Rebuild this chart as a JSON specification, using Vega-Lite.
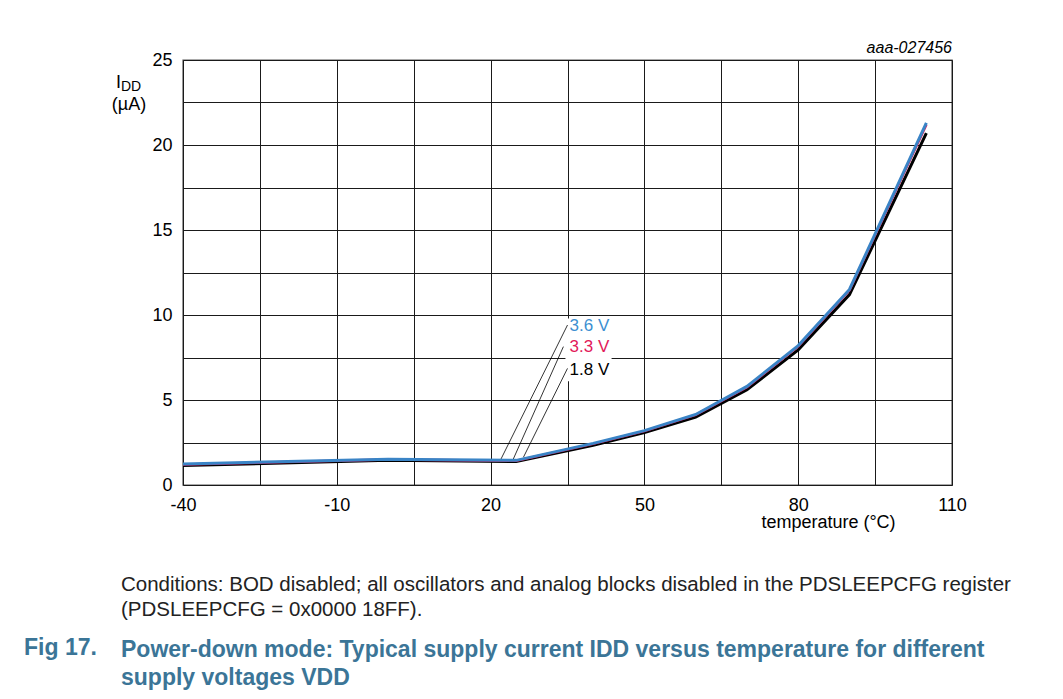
{
  "$schema": "https://vega.github.io/schema/vega-lite/v6.json",
  "width": 769,
  "height": 425,
  "autosize": {"type": "none"},
  "padding": {"left": 183, "top": 60, "right": 111, "bottom": 214},
  "background": "white",
  "config": {
    "font": "Liberation Sans",
    "view": {"stroke": "#555555", "strokeWidth": 1.4},
    "axis": {
      "labelFont": "Liberation Sans",
      "labelFontSize": 18,
      "labelColor": "#000000",
      "labelFlush": false,
      "labelOverlap": false,
      "grid": true,
      "gridColor": "#1a1a1a",
      "gridWidth": 1,
      "gridOpacity": 1,
      "ticks": false,
      "domain": false
    }
  },
  "title": {
    "text": ["Conditions: BOD disabled; all oscillators and analog blocks disabled in the PDSLEEPCFG register", "(PDSLEEPCFG = 0x0000 18FF)."],
    "subtitle": ["Power-down mode: Typical supply current IDD versus temperature for different", "supply voltages VDD"],
    "orient": "bottom",
    "anchor": "start",
    "frame": "group",
    "dx": -62,
    "offset": -85,
    "font": "Liberation Sans",
    "fontSize": 20.5,
    "fontWeight": "normal",
    "color": "#222222",
    "lineHeight": 25,
    "subtitleFont": "Liberation Sans",
    "subtitleFontSize": 23,
    "subtitleFontWeight": "bold",
    "subtitleColor": "#3b7597",
    "subtitleLineHeight": 28,
    "subtitlePadding": 18
  },
  "datasets": {
    "curves": [
      {"temp": -40, "idd": 1.15, "vdd": "1.8 V"},
      {"temp": 0, "idd": 1.45, "vdd": "1.8 V"},
      {"temp": 25, "idd": 1.38, "vdd": "1.8 V"},
      {"temp": 40, "idd": 2.33, "vdd": "1.8 V"},
      {"temp": 50, "idd": 3.08, "vdd": "1.8 V"},
      {"temp": 60, "idd": 4.0, "vdd": "1.8 V"},
      {"temp": 70, "idd": 5.6, "vdd": "1.8 V"},
      {"temp": 80, "idd": 7.95, "vdd": "1.8 V"},
      {"temp": 90, "idd": 11.2, "vdd": "1.8 V"},
      {"temp": 105, "idd": 20.7, "vdd": "1.8 V"},
      {"temp": -40, "idd": 1.2, "vdd": "3.3 V"},
      {"temp": 0, "idd": 1.5, "vdd": "3.3 V"},
      {"temp": 25, "idd": 1.43, "vdd": "3.3 V"},
      {"temp": 40, "idd": 2.42, "vdd": "3.3 V"},
      {"temp": 50, "idd": 3.17, "vdd": "3.3 V"},
      {"temp": 60, "idd": 4.12, "vdd": "3.3 V"},
      {"temp": 70, "idd": 5.75, "vdd": "3.3 V"},
      {"temp": 80, "idd": 8.15, "vdd": "3.3 V"},
      {"temp": 90, "idd": 11.45, "vdd": "3.3 V"},
      {"temp": 105, "idd": 21.2, "vdd": "3.3 V"},
      {"temp": -40, "idd": 1.24, "vdd": "3.6 V"},
      {"temp": 0, "idd": 1.52, "vdd": "3.6 V"},
      {"temp": 25, "idd": 1.45, "vdd": "3.6 V"},
      {"temp": 40, "idd": 2.45, "vdd": "3.6 V"},
      {"temp": 50, "idd": 3.2, "vdd": "3.6 V"},
      {"temp": 60, "idd": 4.15, "vdd": "3.6 V"},
      {"temp": 70, "idd": 5.8, "vdd": "3.6 V"},
      {"temp": 80, "idd": 8.2, "vdd": "3.6 V"},
      {"temp": 90, "idd": 11.5, "vdd": "3.6 V"},
      {"temp": 105, "idd": 21.3, "vdd": "3.6 V"}
    ],
    "leaders": [
      {"t1": 22.0, "i1": 1.51, "t2": 35.0, "i2": 9.41},
      {"t1": 24.4, "i1": 1.51, "t2": 34.2, "i2": 8.14},
      {"t1": 26.4, "i1": 1.63, "t2": 35.0, "i2": 6.86}
    ],
    "labels": [
      {"temp": 35.4, "idd": 9.35, "vdd": "3.6 V"},
      {"temp": 35.4, "idd": 8.1, "vdd": "3.3 V"},
      {"temp": 35.4, "idd": 6.75, "vdd": "1.8 V"}
    ],
    "labelbox": [
      {"t1": 34.6, "t2": 43.6, "i1": 6.1, "i2": 9.8}
    ]
  },
  "layer": [
    {
      "data": {"name": "labelbox"},
      "mark": {"type": "rect", "fill": "white"},
      "encoding": {
        "x": {"field": "t1", "type": "quantitative", "scale": {"domain": [-40, 110], "nice": false, "zero": false},
          "axis": {"values": [-40, -25, -10, 5, 20, 35, 50, 65, 80, 95, 110],
            "labelExpr": "(datum.value + 40) % 30 === 0 ? '' + datum.value : ''",
            "labelPadding": 11,
            "title": "temperature (°C)",
            "titleFont": "Liberation Sans",
            "titleFontSize": 18,
            "titleFontWeight": "normal",
            "titleColor": "#000000",
            "titleX": 645,
            "titleY": 42,
            "titleAlign": "center",
            "titleBaseline": "alphabetic"}},
        "x2": {"field": "t2"},
        "y": {"field": "i1", "type": "quantitative", "scale": {"domain": [0, 25], "nice": false},
          "axis": {"values": [0, 2.5, 5, 7.5, 10, 12.5, 15, 17.5, 20, 22.5, 25],
            "labelExpr": "datum.value % 5 === 0 ? datum.label : ''",
            "labelPadding": 11,
            "title": null}},
        "y2": {"field": "i2"}
      }
    },
    {
      "data": {"name": "leaders"},
      "mark": {"type": "rule", "color": "#000000", "strokeWidth": 0.8},
      "encoding": {
        "x": {"field": "t1", "type": "quantitative"},
        "x2": {"field": "t2"},
        "y": {"field": "i1", "type": "quantitative"},
        "y2": {"field": "i2"}
      }
    },
    {
      "data": {"name": "labels"},
      "mark": {"type": "text", "align": "left", "baseline": "middle", "fontSize": 17, "font": "Liberation Sans"},
      "encoding": {
        "x": {"field": "temp", "type": "quantitative"},
        "y": {"field": "idd", "type": "quantitative"},
        "text": {"field": "vdd"},
        "color": {"field": "vdd", "type": "nominal", "legend": null,
          "scale": {"domain": ["1.8 V", "3.3 V", "3.6 V"], "range": ["#000000", "#e2195a", "#3d8fd1"]}}
      }
    },
    {
      "data": {"name": "curves"},
      "transform": [{"filter": "datum.vdd === '1.8 V'"}],
      "mark": {"type": "line", "color": "#000000", "strokeWidth": 3},
      "encoding": {
        "x": {"field": "temp", "type": "quantitative"},
        "y": {"field": "idd", "type": "quantitative"}
      }
    },
    {
      "data": {"name": "curves"},
      "transform": [{"filter": "datum.vdd === '3.3 V'"}],
      "mark": {"type": "line", "color": "#e2195a", "strokeWidth": 2.5},
      "encoding": {
        "x": {"field": "temp", "type": "quantitative"},
        "y": {"field": "idd", "type": "quantitative"}
      }
    },
    {
      "data": {"name": "curves"},
      "transform": [{"filter": "datum.vdd === '3.6 V'"}],
      "mark": {"type": "line", "color": "#3a84c6", "strokeWidth": 3},
      "encoding": {
        "x": {"field": "temp", "type": "quantitative"},
        "y": {"field": "idd", "type": "quantitative"}
      }
    },
    {
      "data": {"values": [{"temp": 110, "idd": 25, "code": "aaa-027456"}]},
      "mark": {"type": "text", "align": "right", "baseline": "alphabetic", "dy": -7, "fontSize": 16, "fontStyle": "italic", "font": "Liberation Sans", "color": "#000000"},
      "encoding": {
        "x": {"field": "temp", "type": "quantitative"},
        "y": {"field": "idd", "type": "quantitative"},
        "text": {"field": "code"}
      }
    },
    {
      "data": {"values": [{"temp": -40, "idd": 23.62, "t": "I"}]},
      "mark": {"type": "text", "align": "left", "baseline": "middle", "dx": -67, "fontSize": 18, "font": "Liberation Sans", "color": "#000000"},
      "encoding": {
        "x": {"field": "temp", "type": "quantitative"},
        "y": {"field": "idd", "type": "quantitative"},
        "text": {"field": "t"}
      }
    },
    {
      "data": {"values": [{"temp": -40, "idd": 23.62, "t": "DD"}]},
      "mark": {"type": "text", "align": "left", "baseline": "middle", "dx": -62, "dy": 4, "fontSize": 14, "font": "Liberation Sans", "color": "#000000"},
      "encoding": {
        "x": {"field": "temp", "type": "quantitative"},
        "y": {"field": "idd", "type": "quantitative"},
        "text": {"field": "t"}
      }
    },
    {
      "data": {"values": [{"temp": -40, "idd": 22.35, "t": "(µA)"}]},
      "mark": {"type": "text", "align": "center", "baseline": "middle", "dx": -54, "fontSize": 18, "font": "Liberation Sans", "color": "#000000"},
      "encoding": {
        "x": {"field": "temp", "type": "quantitative"},
        "y": {"field": "idd", "type": "quantitative"},
        "text": {"field": "t"}
      }
    },
    {
      "data": {"values": [{"temp": -40, "idd": 0, "t": "Fig 17."}]},
      "mark": {"type": "text", "align": "left", "baseline": "alphabetic", "dx": -159, "dy": 170, "fontSize": 23, "fontWeight": "bold", "font": "Liberation Sans", "color": "#3b7597"},
      "encoding": {
        "x": {"field": "temp", "type": "quantitative"},
        "y": {"field": "idd", "type": "quantitative"},
        "text": {"field": "t"}
      }
    }
  ]
}
